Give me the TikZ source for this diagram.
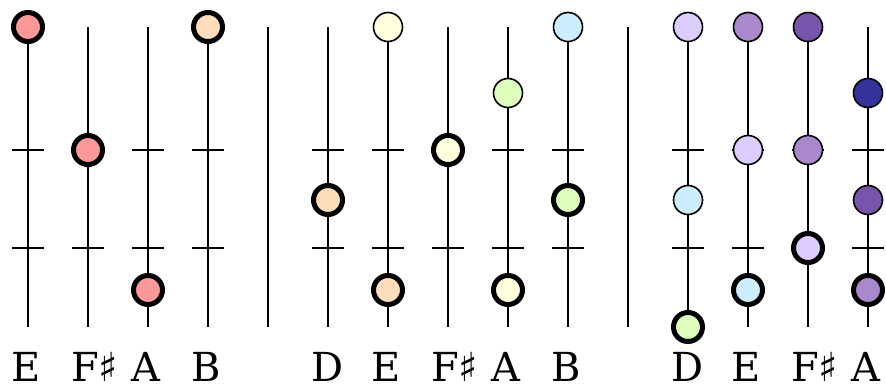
\documentclass[tikz,border=0pt]{standalone}
\usepackage{fontspec}
\setmainfont{DejaVu Serif}
\newfontfamily\symfont{DejaVu Sans}
\definecolor{cpink}{HTML}{FF9999}
\definecolor{cpeach}{HTML}{FFDDBB}
\definecolor{cyellow}{HTML}{FFFFDD}
\definecolor{cgreen}{HTML}{DDFFBB}
\definecolor{cblue}{HTML}{CCEEFF}
\definecolor{clav}{HTML}{DDCCFF}
\definecolor{cmpurp}{HTML}{AA88CC}
\definecolor{cdpurp}{HTML}{7755AA}
\definecolor{cnavy}{HTML}{333399}
\begin{document}
\begin{tikzpicture}[x=1pt,y=-1pt,
  stringline/.style={line width=2pt},
  fretline/.style={line width=2pt},
  notebase/.style={circle,draw=black,inner sep=0pt,minimum size=29pt},
  notethin/.style={notebase,line width=1.6pt},
  notethick/.style={notebase,line width=5pt},
  lbl/.style={anchor=base west,inner sep=0pt,text depth=0pt,font=\fontsize{40}{40}\selectfont}]
\useasboundingbox (0,0) rectangle (886,387);
% strings and separators
\foreach \n/\x in {s1/28,s2/88,s3/148,s4/208,sepa/268,s5/328,s6/388,s7/448,s8/508,s9/568,sepb/628,s10/688,s11/748,s12/808,s13/868}{
  \coordinate (\n top) at (\x,27);
  \coordinate (\n bot) at (\x,327);
  \draw[stringline] (\n top) -- (\n bot);
}
% frets
\foreach \n/\x in {s1/28,s2/88,s3/148,s4/208,s5/328,s6/388,s7/448,s8/508,s9/568,s10/688,s11/748,s12/808,s13/868}{
  \foreach \k/\y in {a/150,b/248}{
    \coordinate (\n\k L) at (\x-16,\y);
    \coordinate (\n\k R) at (\x+16,\y);
    \draw[fretline] (\n\k L) -- (\n\k R);
  }
}
% section 1
\node[notethick,fill=cpink]  (n1)  at (28,27)  {};
\node[notethick,fill=cpink]  (n2)  at (88,150) {};
\node[notethick,fill=cpink]  (n3)  at (148,290) {};
\node[notethick,fill=cpeach] (n4)  at (208,27) {};
% section 2
\node[notethick,fill=cpeach]  (n5)  at (328,200) {};
\node[notethin,fill=cyellow]  (n6)  at (388,27)  {};
\node[notethick,fill=cpeach]  (n7)  at (388,290) {};
\node[notethick,fill=cyellow] (n8)  at (448,150) {};
\node[notethin,fill=cgreen]   (n9)  at (508,93)  {};
\node[notethick,fill=cyellow] (n10) at (508,290) {};
\node[notethin,fill=cblue]    (n11) at (568,27)  {};
\node[notethick,fill=cgreen]  (n12) at (568,200) {};
% section 3
\node[notethin,fill=clav]     (n13) at (688,27)  {};
\node[notethin,fill=cblue]    (n14) at (688,200) {};
\node[notethick,fill=cgreen]  (n15) at (688,327) {};
\node[notethin,fill=cmpurp]   (n16) at (748,27)  {};
\node[notethin,fill=clav]     (n17) at (748,150) {};
\node[notethick,fill=cblue]   (n18) at (748,290) {};
\node[notethin,fill=cdpurp]   (n19) at (808,27)  {};
\node[notethin,fill=cmpurp]   (n20) at (808,150) {};
\node[notethick,fill=clav]    (n21) at (808,248) {};
\node[notethin,fill=cnavy]    (n22) at (868,93)  {};
\node[notethin,fill=cdpurp]   (n23) at (868,200) {};
\node[notethick,fill=cmpurp]  (n24) at (868,290) {};
% labels
\foreach \n/\x/\t in {l1/28/E,l2/88/F{\symfont ♯},l3/148/A,l4/208/B,l5/328/D,l6/388/E,l7/448/F{\symfont ♯},l8/508/A,l9/568/B,l10/688/D,l11/748/E,l12/808/F{\symfont ♯},l13/868/A}{
  \node[lbl] (\n) at (\x-17,381.5) {\t};
}
\end{tikzpicture}
\end{document}
